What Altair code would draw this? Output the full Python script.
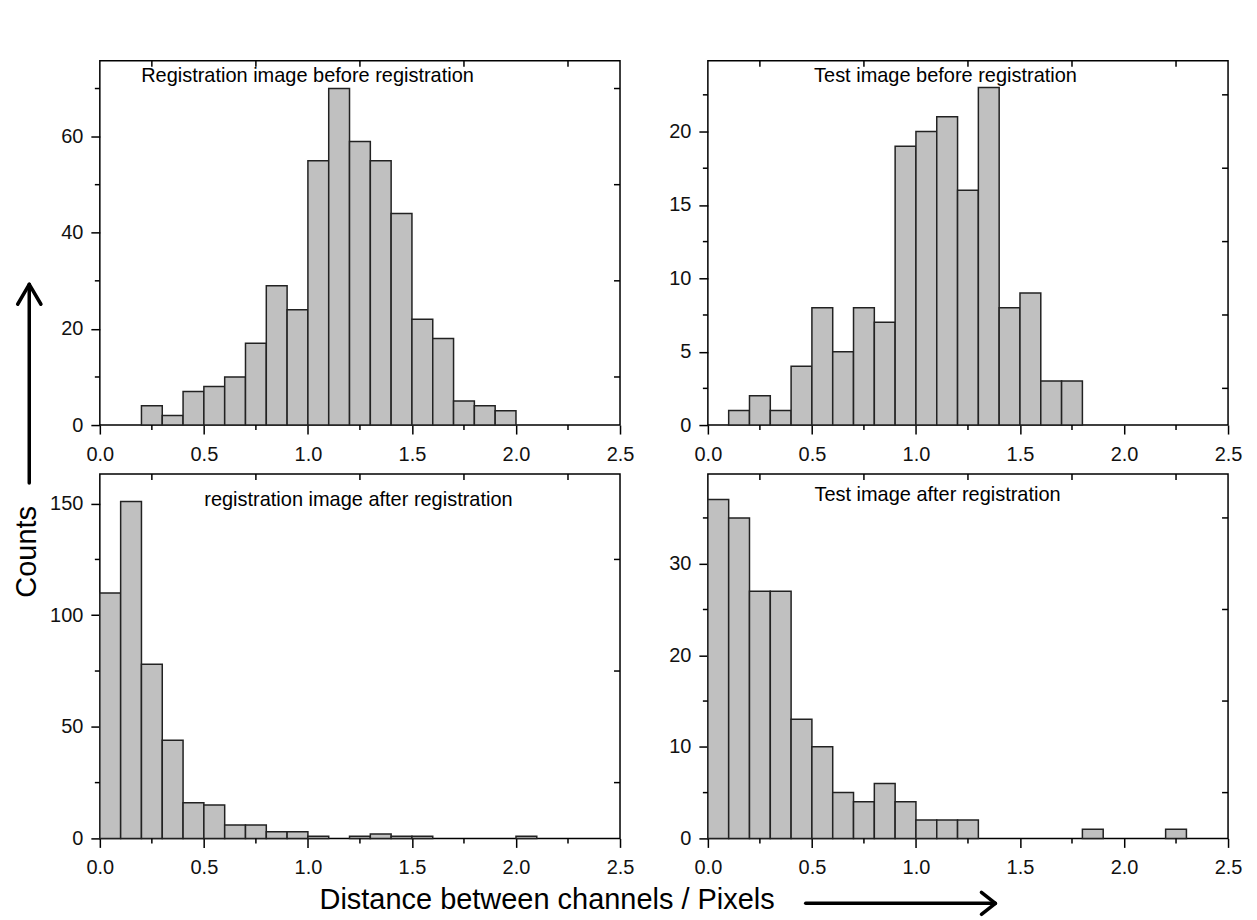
import altair as alt
import pandas as pd

# ---------------- data ----------------
BIN_WIDTH = 0.1
X_MAJOR = [0.0, 0.5, 1.0, 1.5, 2.0, 2.5]
X_MINOR = [0.25, 0.75, 1.25, 1.75, 2.25]

tl_starts = [0.2, 0.3, 0.4, 0.5, 0.6, 0.7, 0.8, 0.9, 1.0, 1.1, 1.2, 1.3, 1.4, 1.5, 1.6, 1.7, 1.8, 1.9]
tl_counts = [4, 2, 7, 8, 10, 17, 29, 24, 55, 70, 59, 55, 44, 22, 18, 5, 4, 3]
tl_ymajor = [0, 20, 40, 60]
tl_yminor = [10, 30, 50, 70]

tr_starts = [0.1, 0.2, 0.3, 0.4, 0.5, 0.6, 0.7, 0.8, 0.9, 1.0, 1.1, 1.2, 1.3, 1.4, 1.5, 1.6, 1.7]
tr_counts = [1, 2, 1, 4, 8, 5, 8, 7, 19, 20, 21, 16, 23, 8, 9, 3, 3]
tr_ymajor = [0, 5, 10, 15, 20]
tr_yminor = [2.5, 7.5, 12.5, 17.5, 22.5]

bl_starts = [0.0, 0.1, 0.2, 0.3, 0.4, 0.5, 0.6, 0.7, 0.8, 0.9, 1.0, 1.2, 1.3, 1.4, 1.5, 2.0]
bl_counts = [110, 151, 78, 44, 16, 15, 6, 6, 3, 3, 1, 1, 2, 1, 1, 1]
bl_ymajor = [0, 50, 100, 150]
bl_yminor = [25, 75, 125]

br_starts = [0.0, 0.1, 0.2, 0.3, 0.4, 0.5, 0.6, 0.7, 0.8, 0.9, 1.0, 1.1, 1.2, 1.8, 2.2]
br_counts = [37, 35, 27, 27, 13, 10, 5, 4, 6, 4, 2, 2, 2, 1, 1]
br_ymajor = [0, 10, 20, 30]
br_yminor = [5, 15, 25, 35]

titles = [
    "Registration image before registration",
    "Test image before registration",
    "registration image after registration",
    "Test image after registration",
]
y_label = "Counts"
x_label = "Distance between channels / Pixels"

# ---------------- style ----------------
FONT = "Liberation Sans"
W, H = 521, 365
BAR_FILL = "#c0c0c0"
BAR_STROKE = "#222222"
LW = 1.5

one = pd.DataFrame({"k": [0]})


def seg(x1, y1, x2, y2, sw=3.5, opacity=1.0):
    return alt.Chart(one).mark_rule(
        color="black", strokeWidth=sw, strokeOpacity=opacity, strokeCap="round"
    ).encode(x=alt.value(x1), x2=alt.value(x2), y=alt.value(y1), y2=alt.value(y2))


def panel(starts, counts, ymax, ymajor, yminor, title, tx, ty, extra=()):
    xs = alt.Scale(domain=[0, 2.5], nice=False, zero=False)
    ys = alt.Scale(domain=[0, ymax], nice=False, zero=True)
    xa = alt.Axis(values=X_MAJOR, format=".1f", title=None)
    ya = alt.Axis(values=ymajor, format="d", title=None)
    df = pd.DataFrame({"start": starts, "count": counts})
    bars = (
        alt.Chart(df)
        .transform_calculate(end=f"datum.start + {BIN_WIDTH}")
        .mark_bar(fill=BAR_FILL, stroke=BAR_STROKE, strokeWidth=LW)
        .encode(
            x=alt.X("start:Q", scale=xs, axis=xa),
            x2="end:Q",
            y=alt.Y("count:Q", scale=ys, axis=ya),
            y2=alt.datum(0),
        )
    )
    xm = alt.Chart(pd.DataFrame({"v": X_MINOR}))
    ym = alt.Chart(pd.DataFrame({"v": yminor}))
    x_out = xm.mark_rule(color="black", strokeWidth=LW).encode(
        x=alt.X("v:Q", scale=xs, axis=xa), y=alt.value(H), y2=alt.value(H + 5))
    x_in = xm.mark_rule(color="black", strokeWidth=LW).encode(
        x=alt.X("v:Q", scale=xs, axis=xa), y=alt.value(0), y2=alt.value(6))
    y_out = ym.mark_rule(color="black", strokeWidth=LW).encode(
        y=alt.Y("v:Q", scale=ys, axis=ya), x=alt.value(0), x2=alt.value(-5))
    y_in = ym.mark_rule(color="black", strokeWidth=LW).encode(
        y=alt.Y("v:Q", scale=ys, axis=ya), x=alt.value(W), x2=alt.value(W - 6))
    ttl = alt.Chart(pd.DataFrame({"t": [title]})).mark_text(
        font=FONT, fontSize=20, align="center", baseline="alphabetic", color="black"
    ).encode(text="t:N", x=alt.value(tx), y=alt.value(ty))
    return alt.layer(bars, x_out, x_in, y_out, y_in, ttl, *extra).properties(
        width=W, height=H)


# global annotations (pixel positions relative to the top-left panel)
counts_txt = alt.Chart(pd.DataFrame({"t": [y_label]})).mark_text(
    font=FONT, fontSize=29, angle=270, align="center", baseline="middle", color="black"
).encode(text="t:N", x=alt.value(-73), y=alt.value(492))
dist_txt = alt.Chart(pd.DataFrame({"t": [x_label]})).mark_text(
    font=FONT, fontSize=29, align="center", baseline="middle", color="black"
).encode(text="t:N", x=alt.value(448), y=alt.value(841))

annotations = [
    counts_txt,
    dist_txt,
    # vertical arrow
    seg(-70.7, 423, -70.7, 225),
    seg(-70.7, 224, -82.3, 244),
    seg(-70.7, 224, -59, 244),
    # horizontal arrow
    seg(707, 844, 896, 844),
    seg(897, 844, 883, 833),
    seg(897, 844, 883, 855),
    # invisible canvas anchor (0,0)-(1257,920)
    seg(-99, -59, 1158, 861, sw=1, opacity=0),
]

tl = panel(tl_starts, tl_counts, 75.8, tl_ymajor, tl_yminor, titles[0], 208, 21, annotations)
tr = panel(tr_starts, tr_counts, 24.83, tr_ymajor, tr_yminor, titles[1], 238, 21)
bl = panel(bl_starts, bl_counts, 163.3, bl_ymajor, bl_yminor, titles[2], 259, 32)
br = panel(br_starts, br_counts, 39.8, br_ymajor, br_yminor, titles[3], 230, 27)

chart = (
    alt.concat(tl, tr, bl, br, columns=2, spacing={"row": 49, "column": 88}, bounds="flush")
    .properties(padding=0, background="white")
    .configure_view(stroke="black", strokeWidth=1.5)
    .configure_axis(
        domain=False, grid=False, tickColor="black", tickWidth=LW, tickSize=9,
        labelFont=FONT, labelFontSize=20, labelColor="#111111",
        labelFlush=False, labelOverlap=False,
    )
    .configure_axisX(labelPadding=10)
    .configure_axisY(labelPadding=8)
)

chart.save("out.html", embed_options={"renderer": "svg", "actions": False})
